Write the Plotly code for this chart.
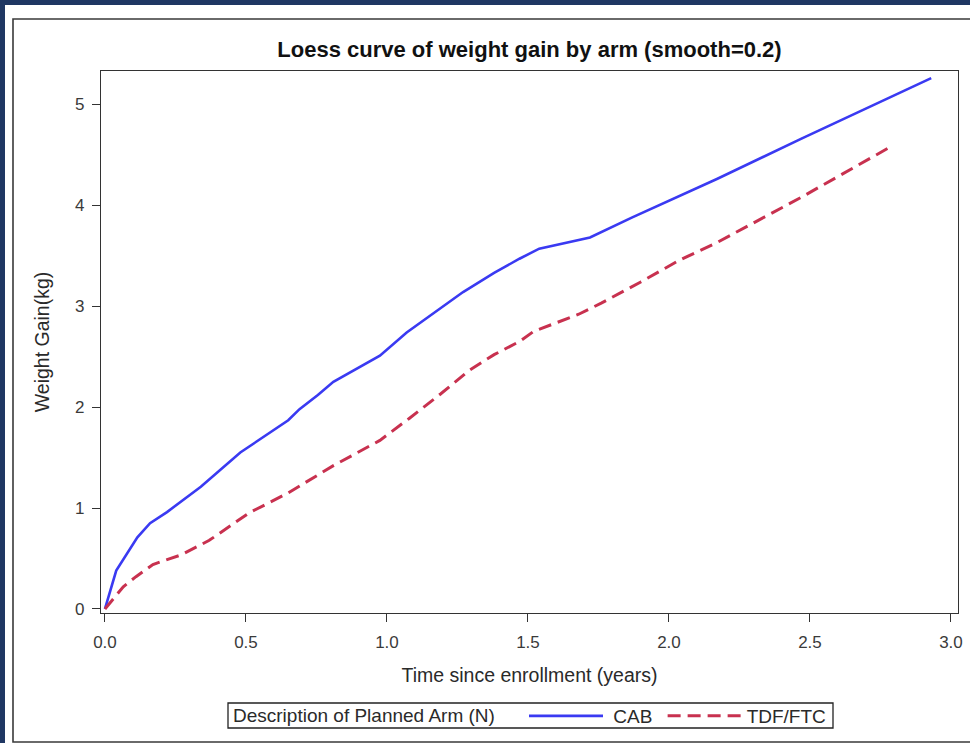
import plotly.graph_objects as go

# Loess-smoothed weight gain (kg) against years since enrollment, by arm
cab_years = [0.0, 0.04, 0.115, 0.16, 0.22, 0.34, 0.48, 0.65, 0.69, 0.755, 0.81,
             0.975, 1.07, 1.27, 1.38, 1.47, 1.54, 1.72, 1.87, 2.17, 2.47, 2.93]
cab_gain = [0.0, 0.38, 0.71, 0.85, 0.96, 1.21, 1.55, 1.87, 1.98, 2.12, 2.25,
            2.51, 2.74, 3.14, 3.33, 3.47, 3.57, 3.68, 3.88, 4.26, 4.66, 5.26]

tdf_years = [0.0, 0.065, 0.11, 0.17, 0.21, 0.27, 0.37, 0.51, 0.65, 0.76, 0.81,
             0.975, 1.08, 1.19, 1.29, 1.38, 1.47, 1.52, 1.68, 1.76, 1.9, 2.04,
             2.17, 2.47, 2.78]
tdf_gain = [0.0, 0.22, 0.32, 0.44, 0.48, 0.535, 0.68, 0.95, 1.15, 1.34, 1.42,
            1.67, 1.89, 2.13, 2.36, 2.52, 2.65, 2.75, 2.92, 3.03, 3.24, 3.46,
            3.63, 4.08, 4.57]

x_ticks = [0.0, 0.5, 1.0, 1.5, 2.0, 2.5, 3.0]
x_tick_text = ["0.0", "0.5", "1.0", "1.5", "2.0", "2.5", "3.0"]
y_ticks = [0, 1, 2, 3, 4, 5]

W, H = 970, 743
L, R, T, B = 101, 958, 71, 613   # plot-area edges in pixels

def px(xpix):
    return (xpix - L) / (R - L)

def py(ypix):
    return (B - ypix) / (B - T)

FONT = "Liberation Sans, Arial, sans-serif"
TEXT = "#2a2a2a"
NBSP = "\u00a0"

fig = go.Figure()
fig.add_trace(go.Scatter(
    x=cab_years, y=cab_gain, mode="lines", name=NBSP + "CAB" + NBSP,
    line=dict(color="#3a3af2", width=2.6),
))
fig.add_trace(go.Scatter(
    x=tdf_years, y=tdf_gain, mode="lines", name="TDF/FTC",
    line=dict(color="#c8314f", width=3, dash="13px,7px"),
))

# navy page edge, white card and its outer frame
fig.add_shape(type="rect", xref="paper", yref="paper", layer="below",
              x0=px(5), x1=px(W + 10), y0=py(H + 10), y1=py(5),
              fillcolor="white", line=dict(width=0))
fig.add_shape(type="rect", xref="paper", yref="paper", layer="below",
              x0=px(13), x1=px(W + 8), y0=py(742), y1=py(19),
              fillcolor="rgba(0,0,0,0)", line=dict(color="#3a3a3a", width=1.6))
# tight box around the legend row
fig.add_shape(type="rect", xref="paper", yref="paper",
              x0=px(228), x1=px(833), y0=py(728), y1=py(703),
              fillcolor="rgba(0,0,0,0)", line=dict(color="#222222", width=1.3))

fig.update_layout(
    width=W, height=H,
    margin=dict(l=L, r=W - R, t=T, b=H - B, pad=0, autoexpand=False),
    paper_bgcolor="#1f3763",
    plot_bgcolor="white",
    font=dict(family=FONT, size=19, color=TEXT),
    title=dict(
        text="<b>Loess curve of weight gain by arm (smooth=0.2)</b>",
        x=0.5, xref="paper", xanchor="center",
        y=1 - 49 / H, yref="container", yanchor="middle",
        font=dict(family=FONT, size=22, color="#111111"),
    ),
    xaxis=dict(
        range=[-0.014, 3.025], tickvals=x_ticks, ticktext=x_tick_text,
        showgrid=False, zeroline=False, automargin=False,
        showline=True, linecolor="#333333", linewidth=1.3, mirror=True,
        ticks="outside", ticklen=8, tickcolor="#333333", tickwidth=1.3,
        ticklabelstandoff=5,
        tickfont=dict(size=17, color="#3a3a3a"),
        title=dict(text="Time since enrollment (years)", standoff=17,
                   font=dict(size=19.5, color=TEXT)),
    ),
    yaxis=dict(
        range=[-0.04, 5.33], tickvals=y_ticks,
        showgrid=False, zeroline=False, automargin=False,
        showline=True, linecolor="#333333", linewidth=1.3, mirror=True,
        ticks="outside", ticklen=8, tickcolor="#333333", tickwidth=1.3,
        ticklabelstandoff=4,
        tickfont=dict(size=17, color="#3a3a3a"),
        title=dict(text="Weight Gain(kg)", standoff=20,
                   font=dict(size=19.5, color=TEXT)),
    ),
    legend=dict(
        orientation="h",
        xref="container", yref="container",
        x=231 / W, xanchor="left", y=1 - 716 / H, yanchor="middle",
        borderwidth=0, bgcolor="rgba(0,0,0,0)",
        title=dict(text="Description of Planned Arm (N)" + NBSP * 4,
                   side="left", font=dict(size=19, color=TEXT)),
        font=dict(size=19, color=TEXT),
        itemwidth=74,
    ),
    showlegend=True,
)

fig.write_html("out.html")
